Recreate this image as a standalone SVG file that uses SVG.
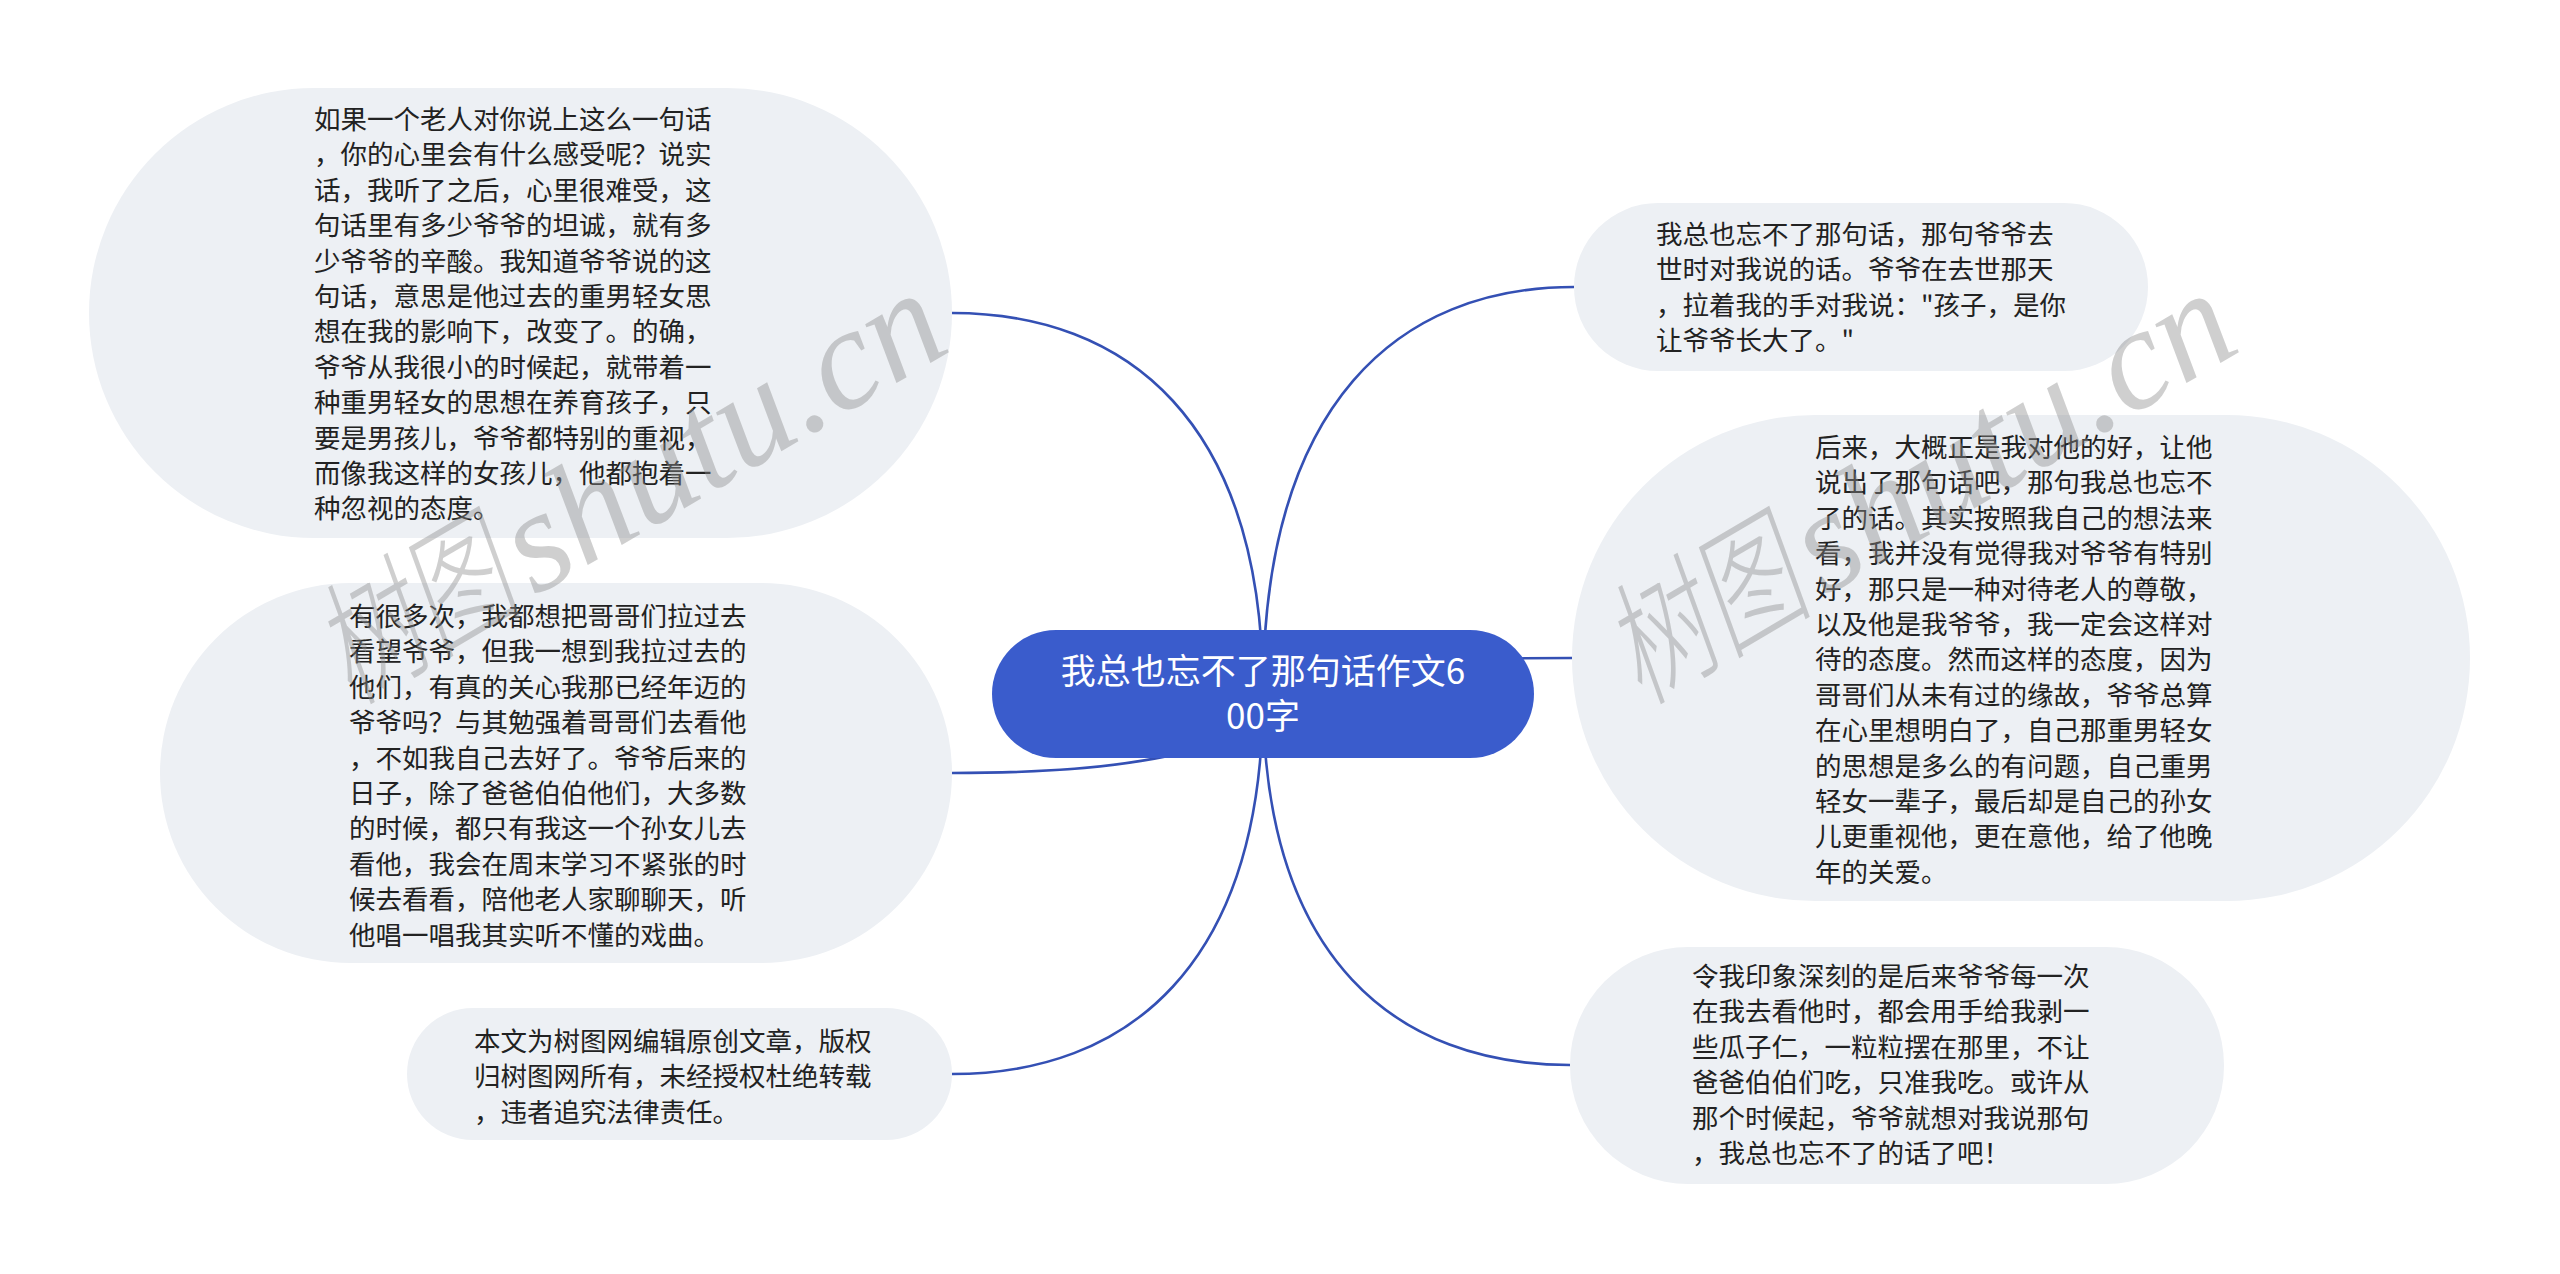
<svg xmlns="http://www.w3.org/2000/svg" width="2560" height="1274" viewBox="0 0 2560 1274">
<defs>
<style>
.node{fill:#edf0f4;}
.root{fill:#3a5ccc;}
.t{font-family:"Noto Sans CJK SC","Noto Sans",sans-serif;font-size:26.5px;fill:#222;}
.rt{font-family:"Noto Sans CJK SC","Noto Sans",sans-serif;font-size:35px;fill:#ffffff;text-anchor:middle;}
.conn{fill:none;stroke:#3450b4;stroke-width:2.6;}
.wm{fill:#8c8c8c;fill-opacity:0.42;}
.wmc{font-family:"Noto Sans CJK SC",sans-serif;font-size:135px;font-style:italic;font-weight:300;}
.wml{font-family:"Liberation Serif","DejaVu Serif",serif;font-size:145px;font-style:italic;}
</style>
</defs>
<rect width="2560" height="1274" fill="#ffffff"/>
<g id="connectors">
<path class="conn" d="M1263 694 C1263 420 1126 313 952 313"/>
<path class="conn" d="M1263 694 C1263 751 1126 773 952 773"/>
<path class="conn" d="M1263 694 C1263 968 1126 1074 952 1074"/>
<path class="conn" d="M1263 694 C1263 401 1400 287 1574 287"/>
<path class="conn" d="M1263 694 C1263 668 1399 658 1572 658"/>
<path class="conn" d="M1263 694 C1263 961 1398 1065 1570 1065"/>
</g>
<g id="node-root">
<rect class="root" x="992" y="630" width="542" height="128" rx="64"/>
<text class="rt"><tspan x="1263" y="684">我总也忘不了那句话作文6</tspan><tspan x="1263" y="729">00字</tspan></text>
</g>
<g id="node-tl">
<rect class="node" x="89" y="88" width="863" height="450" rx="225"/>
<text class="t">
<tspan x="314" y="129">如果一个老人对你说上这么一句话</tspan>
<tspan x="314" dy="35.4">，你的心里会有什么感受呢？说实</tspan>
<tspan x="314" dy="35.4">话，我听了之后，心里很难受，这</tspan>
<tspan x="314" dy="35.4">句话里有多少爷爷的坦诚，就有多</tspan>
<tspan x="314" dy="35.4">少爷爷的辛酸。我知道爷爷说的这</tspan>
<tspan x="314" dy="35.4">句话，意思是他过去的重男轻女思</tspan>
<tspan x="314" dy="35.4">想在我的影响下，改变了。的确，</tspan>
<tspan x="314" dy="35.4">爷爷从我很小的时候起，就带着一</tspan>
<tspan x="314" dy="35.4">种重男轻女的思想在养育孩子，只</tspan>
<tspan x="314" dy="35.4">要是男孩儿，爷爷都特别的重视，</tspan>
<tspan x="314" dy="35.4">而像我这样的女孩儿，他都抱着一</tspan>
<tspan x="314" dy="35.4">种忽视的态度。</tspan>
</text>
</g>
<g id="node-ml">
<rect class="node" x="160" y="583" width="792" height="380" rx="190"/>
<text class="t">
<tspan x="349" y="626">有很多次，我都想把哥哥们拉过去</tspan>
<tspan x="349" dy="35.4">看望爷爷，但我一想到我拉过去的</tspan>
<tspan x="349" dy="35.4">他们，有真的关心我那已经年迈的</tspan>
<tspan x="349" dy="35.4">爷爷吗？与其勉强着哥哥们去看他</tspan>
<tspan x="349" dy="35.4">，不如我自己去好了。爷爷后来的</tspan>
<tspan x="349" dy="35.4">日子，除了爸爸伯伯他们，大多数</tspan>
<tspan x="349" dy="35.4">的时候，都只有我这一个孙女儿去</tspan>
<tspan x="349" dy="35.4">看他，我会在周末学习不紧张的时</tspan>
<tspan x="349" dy="35.4">候去看看，陪他老人家聊聊天，听</tspan>
<tspan x="349" dy="35.4">他唱一唱我其实听不懂的戏曲。</tspan>
</text>
</g>
<g id="node-bl">
<rect class="node" x="407" y="1008" width="545" height="132" rx="66"/>
<text class="t">
<tspan x="474" y="1051">本文为树图网编辑原创文章，版权</tspan>
<tspan x="474" dy="35.4">归树图网所有，未经授权杜绝转载</tspan>
<tspan x="474" dy="35.4">，违者追究法律责任。</tspan>
</text>
</g>
<g id="node-tr">
<rect class="node" x="1574" y="203" width="574" height="168" rx="84"/>
<text class="t">
<tspan x="1656" y="244">我总也忘不了那句话，那句爷爷去</tspan>
<tspan x="1656" dy="35.4">世时对我说的话。爷爷在去世那天</tspan>
<tspan x="1656" dy="35.4">，拉着我的手对我说："孩子，是你</tspan>
<tspan x="1656" dy="35.4">让爷爷长大了。"</tspan>
</text>
</g>
<g id="node-mr">
<rect class="node" x="1572" y="415" width="898" height="486" rx="243"/>
<text class="t">
<tspan x="1815" y="457">后来，大概正是我对他的好，让他</tspan>
<tspan x="1815" dy="35.4">说出了那句话吧，那句我总也忘不</tspan>
<tspan x="1815" dy="35.4">了的话。其实按照我自己的想法来</tspan>
<tspan x="1815" dy="35.4">看，我并没有觉得我对爷爷有特别</tspan>
<tspan x="1815" dy="35.4">好，那只是一种对待老人的尊敬，</tspan>
<tspan x="1815" dy="35.4">以及他是我爷爷，我一定会这样对</tspan>
<tspan x="1815" dy="35.4">待的态度。然而这样的态度，因为</tspan>
<tspan x="1815" dy="35.4">哥哥们从未有过的缘故，爷爷总算</tspan>
<tspan x="1815" dy="35.4">在心里想明白了，自己那重男轻女</tspan>
<tspan x="1815" dy="35.4">的思想是多么的有问题，自己重男</tspan>
<tspan x="1815" dy="35.4">轻女一辈子，最后却是自己的孙女</tspan>
<tspan x="1815" dy="35.4">儿更重视他，更在意他，给了他晚</tspan>
<tspan x="1815" dy="35.4">年的关爱。</tspan>
</text>
</g>
<g id="node-br">
<rect class="node" x="1570" y="947" width="654" height="237" rx="118"/>
<text class="t">
<tspan x="1692" y="986">令我印象深刻的是后来爷爷每一次</tspan>
<tspan x="1692" dy="35.4">在我去看他时，都会用手给我剥一</tspan>
<tspan x="1692" dy="35.4">些瓜子仁，一粒粒摆在那里，不让</tspan>
<tspan x="1692" dy="35.4">爸爸伯伯们吃，只准我吃。或许从</tspan>
<tspan x="1692" dy="35.4">那个时候起，爷爷就想对我说那句</tspan>
<tspan x="1692" dy="35.4">，我总也忘不了的话了吧！</tspan>
</text>
</g>
<g id="watermarks" class="wm">
<g transform="translate(352,704) rotate(-30.5)">
<text class="wmc" transform="scale(0.74,1)" x="0" y="0">树图</text>
<text class="wml" x="212" y="0">shutu.cn</text>
</g>
<g transform="translate(1642,704) rotate(-30.5)">
<text class="wmc" transform="scale(0.74,1)" x="0" y="0">树图</text>
<text class="wml" x="212" y="0">shutu.cn</text>
</g>
</g>
</svg>
